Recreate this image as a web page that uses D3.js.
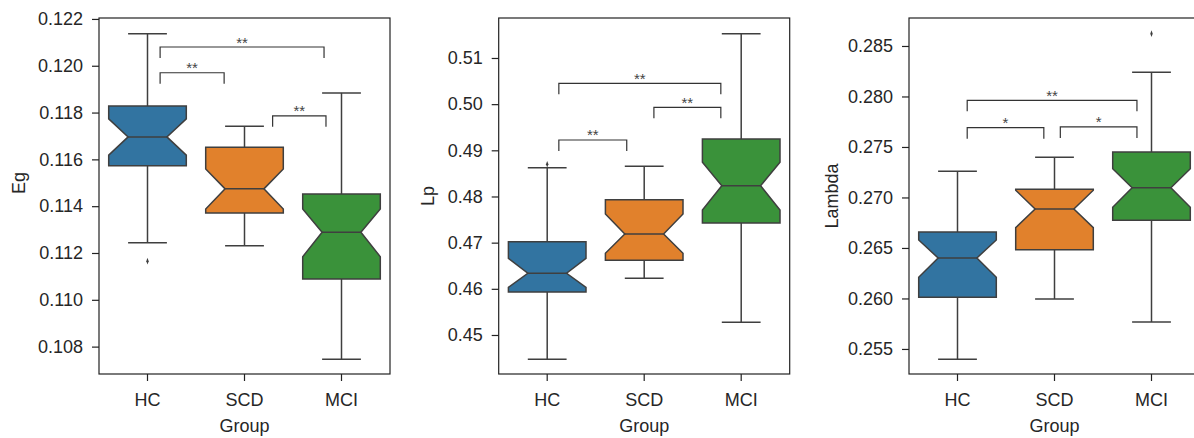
<!DOCTYPE html>
<html>
<head>
<meta charset="utf-8">
<script src="https://cdn.jsdelivr.net/npm/d3@7"></script>
<style>
  body { margin: 0; background: #fff; }
  svg { display: block; font-family: "Liberation Sans", Arial, sans-serif; }
</style>
</head>
<body>
<div id="chart"></div>
<script>
// groups on the x axis
const groups = ['HC', 'SCD', 'MCI'];
const colors = ['#3274a1', '#e1812c', '#3a923a'];

// Eg
const egLow = [0.11244, 0.11231, 0.10746];
const egQ1 = [0.11573, 0.11371, 0.11089];
const egMedian = [0.11696, 0.11474, 0.11289];
const egQ3 = [0.11828, 0.11652, 0.11452];
const egHigh = [0.12137, 0.11741, 0.11884];
const egNotchLo = [0.11618, 0.11388, 0.11184];
const egNotchHi = [0.11773, 0.11559, 0.11388];
const egOutliers = [[0.11165], [], []];
const egTicks = [0.108, 0.110, 0.112, 0.114, 0.116, 0.118, 0.120, 0.122];
const egDomain = [0.10683, 0.12204];
// brackets: start / end in group index units, height in data units
const egBrX1 = [0.13, 0.13, 1.29];
const egBrX2 = [1.82, 0.79, 1.84];
const egBrY = [0.12080, 0.11970, 0.11786];
const egBrText = ['**', '**', '**'];

// Lp
const lpLow = [0.44474, 0.46229, 0.45276];
const lpQ1 = [0.45932, 0.46618, 0.47426];
const lpMedian = [0.46337, 0.47188, 0.48234];
const lpQ3 = [0.47021, 0.47931, 0.49246];
const lpHigh = [0.48624, 0.48654, 0.51526];
const lpNotchLo = [0.46030, 0.46770, 0.47708];
const lpNotchHi = [0.46662, 0.47621, 0.48741];
const lpOutliers = [[0.48698], [], []];
const lpTicks = [0.45, 0.46, 0.47, 0.48, 0.49, 0.50, 0.51];
const lpDomain = [0.44155, 0.51866];
const lpBrX1 = [0.12, 1.10, 0.12];
const lpBrX2 = [1.79, 1.79, 0.82];
const lpBrY = [0.50452, 0.49932, 0.49224];
const lpBrText = ['**', '**', '**'];

// Lambda
const lambdaLow = [0.25398, 0.25995, 0.25767];
const lambdaQ1 = [0.26012, 0.26483, 0.26774];
const lambdaMedian = [0.26401, 0.26886, 0.27097];
const lambdaQ3 = [0.26658, 0.27081, 0.27450];
const lambdaHigh = [0.27259, 0.27398, 0.28240];
const lambdaNotchLo = [0.26210, 0.26701, 0.26903];
const lambdaNotchHi = [0.26579, 0.27071, 0.27285];
const lambdaOutliers = [[], [], [0.28622]];
const lambdaTicks = [0.255, 0.260, 0.265, 0.270, 0.275, 0.280, 0.285];
const lambdaDomain = [0.25252, 0.28777];
const lambdaBrX1 = [0.10, 0.10, 1.06];
const lambdaBrX2 = [1.85, 0.89, 1.85];
const lambdaBrY = [0.27962, 0.27691, 0.27698];
const lambdaBrText = ['**', '*', '*'];

const width = 1194, height = 438;
const marginTop = 18, innerH = 356, innerW = 291;
const lineColor = '#3f3f3f';
const textColor = '#262626';

const svg = d3.select('#chart').append('svg')
  .attr('width', width)
  .attr('height', height)
  .attr('viewBox', `0 0 ${width} ${height}`);

const panels = [
  {left: 99, label: 'Eg', labelX: 25, labelY: 183, fmt: d3.format('.3f'),
   low: egLow, q1: egQ1, med: egMedian, q3: egQ3, high: egHigh,
   nLo: egNotchLo, nHi: egNotchHi, out: egOutliers, ticks: egTicks, domain: egDomain,
   brX1: egBrX1, brX2: egBrX2, brY: egBrY, brText: egBrText},
  {left: 498.7, label: 'Lp', labelX: 433.5, labelY: 196, fmt: d3.format('.2f'),
   low: lpLow, q1: lpQ1, med: lpMedian, q3: lpQ3, high: lpHigh,
   nLo: lpNotchLo, nHi: lpNotchHi, out: lpOutliers, ticks: lpTicks, domain: lpDomain,
   brX1: lpBrX1, brX2: lpBrX2, brY: lpBrY, brText: lpBrText},
  {left: 909, label: 'Lambda', labelX: 837.5, labelY: 196, fmt: d3.format('.3f'),
   low: lambdaLow, q1: lambdaQ1, med: lambdaMedian, q3: lambdaQ3, high: lambdaHigh,
   nLo: lambdaNotchLo, nHi: lambdaNotchHi, out: lambdaOutliers, ticks: lambdaTicks, domain: lambdaDomain,
   brX1: lambdaBrX1, brX2: lambdaBrX2, brY: lambdaBrY, brText: lambdaBrText}
];

panels.forEach(p => drawPanel(p));

function drawPanel(p) {
  const g = svg.append('g').attr('transform', `translate(${p.left},${marginTop})`);

  const x = d3.scaleBand().domain(groups).range([0, innerW]).paddingInner(0).paddingOuter(0);
  // same axis but in group index units, for the brackets
  const pos = d3.scaleLinear().domain([-0.5, groups.length - 0.5]).range([0, innerW]);
  const y = d3.scaleLinear().domain(p.domain).range([innerH, 0]);

  const boxW = x.bandwidth() * 0.8;

  groups.forEach((grp, i) => {
    const cx = x(grp) + x.bandwidth() / 2;
    const l = cx - boxW / 2, r = cx + boxW / 2;
    const nl = cx - boxW / 4, nr = cx + boxW / 4;
    const bg = g.append('g');

    // whiskers
    bg.append('line')
      .attr('x1', cx).attr('x2', cx)
      .attr('y1', y(p.q3[i])).attr('y2', y(p.high[i]));
    bg.append('line')
      .attr('x1', cx).attr('x2', cx)
      .attr('y1', y(p.q1[i])).attr('y2', y(p.low[i]));
    // caps
    bg.append('line')
      .attr('x1', nl).attr('x2', nr)
      .attr('y1', y(p.high[i])).attr('y2', y(p.high[i]));
    bg.append('line')
      .attr('x1', nl).attr('x2', nr)
      .attr('y1', y(p.low[i])).attr('y2', y(p.low[i]));
    bg.selectAll('line')
      .attr('stroke', lineColor)
      .attr('stroke-width', 1.5);

    // notched box
    const pts = [
      [l, y(p.q3[i])], [l, y(p.nHi[i])], [nl, y(p.med[i])], [l, y(p.nLo[i])],
      [l, y(p.q1[i])], [r, y(p.q1[i])], [r, y(p.nLo[i])], [nr, y(p.med[i])],
      [r, y(p.nHi[i])], [r, y(p.q3[i])]
    ];
    bg.append('path')
      .attr('d', d3.line()(pts) + 'Z')
      .attr('fill', colors[i])
      .attr('stroke', lineColor)
      .attr('stroke-width', 1.5)
      .attr('stroke-linejoin', 'miter');

    // median
    bg.append('line')
      .attr('x1', nl).attr('x2', nr)
      .attr('y1', y(p.med[i])).attr('y2', y(p.med[i]))
      .attr('stroke', lineColor)
      .attr('stroke-width', 1.5);

    // outliers, small diamonds
    bg.selectAll('path.out')
      .data(p.out[i])
      .join('path')
      .attr('class', 'out')
      .attr('d', d3.symbol(d3.symbolDiamond, 9))
      .attr('transform', d => `translate(${cx},${y(d)}) scale(0.75,1.2)`)
      .attr('fill', lineColor);
  });

  // significance brackets
  const leg = 11;
  p.brY.forEach((v, i) => {
    const x1 = pos(p.brX1[i]), x2 = pos(p.brX2[i]), yy = y(v);
    g.append('path')
      .attr('d', `M${x1},${yy + leg}V${yy}H${x2}V${yy + leg}`)
      .attr('fill', 'none')
      .attr('stroke', '#333')
      .attr('stroke-width', 1.2);
    g.append('text')
      .attr('x', (x1 + x2) / 2)
      .attr('y', yy + 0.5)
      .attr('text-anchor', 'middle')
      .attr('font-size', 15)
      .attr('fill', '#444')
      .text(p.brText[i]);
  });

  // frame
  g.append('rect')
    .attr('width', innerW).attr('height', innerH)
    .attr('fill', 'none')
    .attr('stroke', '#222')
    .attr('stroke-width', 1.2);

  // axes
  const yAxis = g.append('g')
    .call(d3.axisLeft(y).tickValues(p.ticks).tickFormat(p.fmt).tickSize(7).tickPadding(9));
  const xAxis = g.append('g')
    .attr('transform', `translate(0,${innerH})`)
    .call(d3.axisBottom(x).tickSize(7).tickPadding(12));
  [yAxis, xAxis].forEach(a => {
    a.select('.domain').remove();
    a.selectAll('line').attr('stroke', '#222').attr('stroke-width', 1.2);
    a.selectAll('text')
      .attr('fill', textColor)
      .style('font-size', '18px')
      .style('font-family', '"Liberation Sans", Arial, sans-serif');
  });

  // axis titles
  svg.append('text')
    .attr('x', p.left + innerW / 2)
    .attr('y', 432)
    .attr('text-anchor', 'middle')
    .attr('fill', textColor)
    .attr('font-size', 18)
    .text('Group');
  svg.append('text')
    .attr('transform', `translate(${p.labelX},${p.labelY}) rotate(-90)`)
    .attr('text-anchor', 'middle')
    .attr('fill', textColor)
    .attr('font-size', 18)
    .text(p.label);
}
</script>
</body>
</html>
